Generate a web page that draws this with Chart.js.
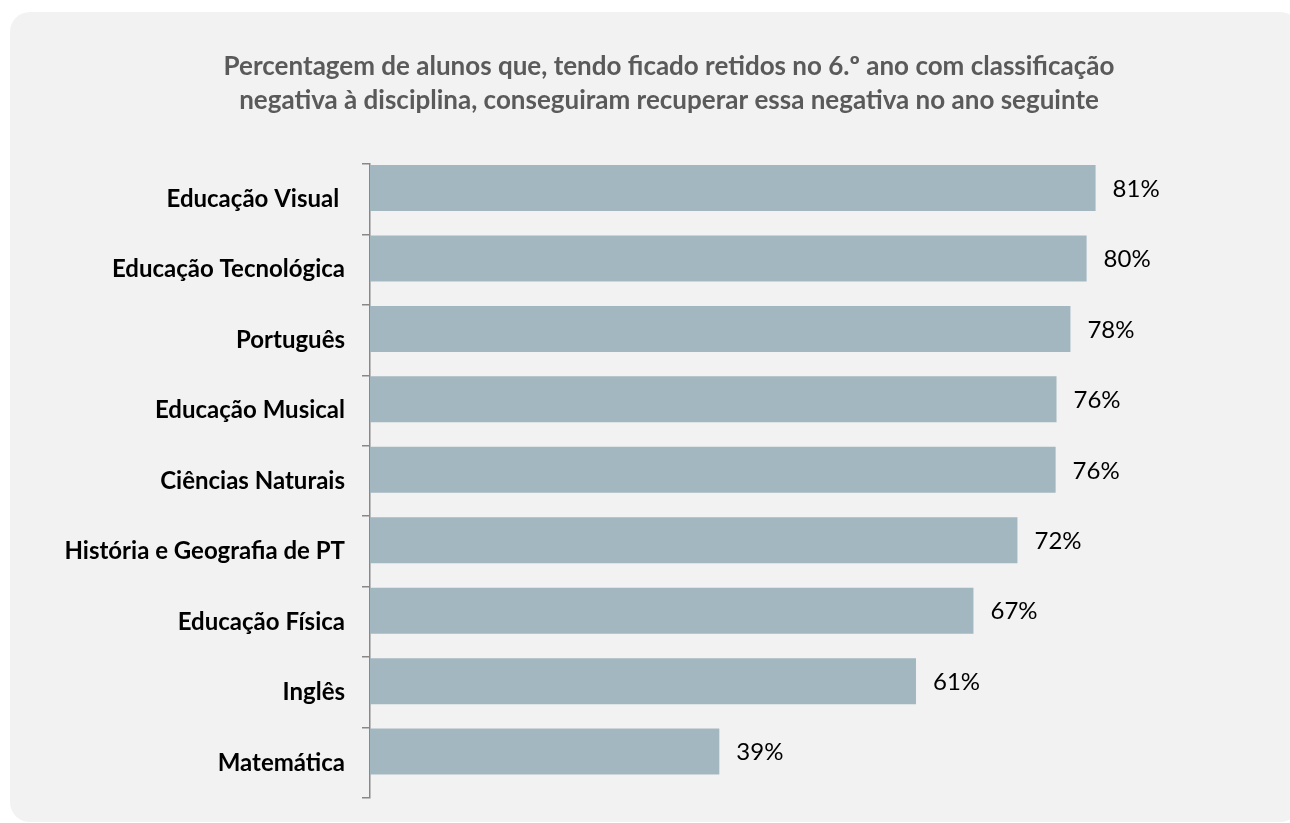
<!DOCTYPE html>
<html>
<head>
<meta charset="utf-8">
<script src="https://cdn.jsdelivr.net/npm/chart.js@4/dist/chart.umd.min.js"></script>
<style>
  html, body { margin: 0; padding: 0; background: #fff; overflow: hidden; }
  #panel {
    position: absolute; left: 10px; top: 12px;
    width: 1290px; height: 810px;
    border-radius: 20px; background: #f2f2f2;
  }
  #chart { position: absolute; left: 0; top: 0; }
</style>
</head>
<body>
<div id="panel"></div>
<canvas id="chart" width="1290" height="823"></canvas>
<script>
// data
const subjects = [
  'Educação Visual ',
  'Educação Tecnológica',
  'Português',
  'Educação Musical',
  'Ciências Naturais',
  'História e Geografia de PT',
  'Educação Física',
  'Inglês',
  'Matemática'
];
const recovered = [80.8, 79.8, 78.0, 76.45, 76.35, 72.1, 67.2, 60.8, 38.9];
const titleLines = [
  'Percentagem de alunos que, tendo ficado retidos no 6.º ano com classificação',
  'negativa à disciplina, conseguiram recuperar essa negativa no ano seguinte'
];

// title is drawn by hand so it can sit off-centre like the original
const chartTitle = {
  id: 'chartTitle',
  afterDraw(chart) {
    const ctx = chart.ctx;
    ctx.save();
    ctx.font = 'bold 26px Lato';
    ctx.fillStyle = '#5a5a5a';
    ctx.textAlign = 'center';
    ctx.textBaseline = 'middle';
    titleLines.forEach((line, i) => ctx.fillText(line, 669, 67 + i * 34));
    ctx.restore();
  }
};

// value labels at the end of each bar
const barLabels = {
  id: 'barLabels',
  afterDatasetsDraw(chart) {
    const ctx = chart.ctx;
    const meta = chart.getDatasetMeta(0);
    ctx.save();
    ctx.font = '24px Lato';
    ctx.fillStyle = '#000';
    ctx.textAlign = 'left';
    ctx.textBaseline = 'middle';
    meta.data.forEach((bar, i) => {
      ctx.fillText(Math.round(recovered[i]) + '%', bar.x + 17, bar.y + 1);
    });
    ctx.restore();
  }
};

new Chart(document.getElementById('chart'), {
  type: 'bar',
  data: {
    labels: subjects,
    datasets: [
      {
        data: recovered,
        backgroundColor: '#a3b7c1',
        // bars sit in the upper part of each band, like the original spreadsheet chart
        categoryPercentage: 0.636,
        barPercentage: 2.054
      },
      {
        // empty second series
        data: subjects.map(() => null),
        backgroundColor: 'rgba(0,0,0,0)',
        categoryPercentage: 0.636,
        barPercentage: 2.054
      }
    ]
  },
  options: {
    indexAxis: 'y',
    responsive: false,
    animation: false,
    layout: { padding: { left: 10, right: 22, top: 164, bottom: 25 } },
    plugins: {
      legend: { display: false },
      tooltip: { enabled: false },
      title: { display: false }
    },
    scales: {
      x: {
        display: false,
        min: 0,
        max: 100
      },
      y: {
        afterFit(scale) {
          scale.width = 360;
          scale.paddingTop = 0;
          scale.paddingBottom = 0;
        },
        border: { display: true, color: '#888', width: 1.5 },
        grid: {
          offset: true,
          drawOnChartArea: false,
          drawTicks: true,
          tickLength: 8,
          color: '#888',
          lineWidth: 1.5
        },
        ticks: {
          color: '#000',
          padding: 17,
          font: { family: 'Lato', size: 24, weight: 'bold' }
        }
      }
    }
  },
  plugins: [barLabels, chartTitle]
});
</script>
</body>
</html>
